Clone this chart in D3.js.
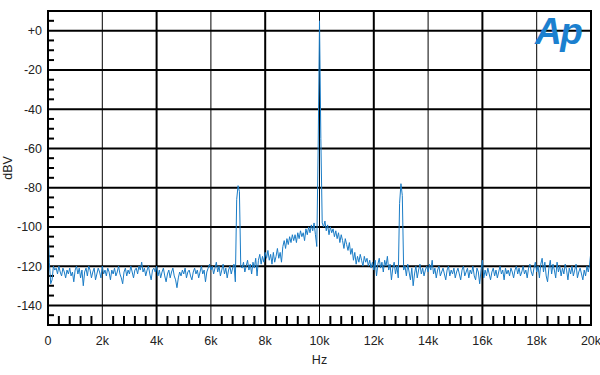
<!DOCTYPE html>
<html>
<head>
<meta charset="utf-8">
<script src="https://cdn.jsdelivr.net/npm/d3@7"></script>
<style>
  html, body { margin: 0; padding: 0; background: #fff; }
  svg { display: block; font-family: "Liberation Sans", Arial, sans-serif; }
</style>
</head>
<body>
<svg id="chart" width="600" height="375"></svg>
<script>
// ---- data ----
const binHz = 50; // FFT bin spacing of the analyzer trace
// Level (dBV) per 50 Hz bin, 0 Hz .. 20 kHz, one row per kHz
const levelDbv = [
  -99,-118,-129,-127,-120,-122,-121,-124,-120,-123,-125,-121,-123,-126,-122,-124,-121,-125,-123,-128,
  -122,-120,-124,-121,-126,-122,-130,-123,-121,-125,-120,-122,-126,-123,-121,-127,-124,-121,-123,-126,
  -120,-124,-122,-125,-121,-123,-127,-122,-124,-121,-125,-123,-120,-124,-126,-129,-123,-121,-125,-122,
  -124,-120,-123,-126,-122,-121,-124,-120,-122,-118,-123,-121,-125,-122,-120,-124,-127,-122,-121,-123,
  -120,-125,-122,-126,-123,-121,-125,-128,-124,-122,-126,-123,-121,-125,-127,-131,-126,-123,-125,-122,
  -124,-121,-126,-123,-122,-125,-127,-123,-121,-124,-122,-126,-123,-120,-124,-122,-128,-123,-121,-119,
  -122,-120,-124,-121,-118,-123,-120,-125,-122,-119,-124,-121,-126,-122,-120,-124,-121,-119,-128,-86,
  -79,-82,-120,-121,-118,-123,-120,-117,-122,-119,-124,-118,-121,-116,-125,-117,-114,-119,-115,-118,
  -113,-116,-112,-117,-114,-119,-113,-118,-115,-111,-116,-113,-118,-110,-107,-111,-106,-109,-105,-108,
  -104,-107,-104,-108,-103,-106,-102,-105,-103,-107,-101,-104,-100,-103,-99,-102,-98,-104,-110,-60,
  5,-55,-98,-100,-97,-102,-99,-104,-100,-103,-101,-105,-102,-106,-103,-108,-104,-107,-111,-106,
  -109,-112,-108,-114,-111,-117,-113,-119,-115,-118,-114,-117,-120,-115,-118,-116,-120,-117,-121,-118,
  -122,-117,-125,-119,-116,-121,-118,-123,-117,-120,-115,-122,-119,-127,-121,-118,-124,-120,-126,-88,
  -78,-84,-122,-120,-125,-119,-123,-127,-121,-130,-124,-120,-126,-122,-119,-124,-121,-125,-122,-120,
  -123,-119,-122,-117,-124,-121,-126,-122,-120,-125,-123,-121,-124,-127,-122,-120,-125,-122,-124,-121,
  -126,-123,-121,-124,-127,-122,-120,-125,-123,-121,-126,-122,-124,-120,-125,-127,-121,-123,-129,-122,
  -117,-126,-122,-125,-121,-124,-127,-123,-121,-125,-122,-126,-123,-120,-124,-122,-127,-121,-124,-122,
  -125,-121,-123,-126,-122,-120,-124,-121,-125,-123,-120,-124,-122,-126,-121,-119,-123,-125,-121,-118,
  -123,-120,-126,-119,-116,-123,-118,-125,-128,-121,-117,-124,-119,-122,-126,-118,-123,-120,-125,-121,
  -124,-119,-122,-127,-121,-124,-120,-125,-122,-119,-126,-123,-121,-124,-127,-122,-125,-120,-123,-119,
  -112
];
const xTicksHz = [0, 2000, 4000, 6000, 8000, 10000, 12000, 14000, 16000, 18000, 20000];
const xTickLabels = ["0", "2k", "4k", "6k", "8k", "10k", "12k", "14k", "16k", "18k", "20k"];
const yTicksDb = [0, -20, -40, -60, -80, -100, -120, -140];
const yTickLabels = ["+0", "-20", "-40", "-60", "-80", "-100", "-120", "-140"];
const xMinorHz = d3.range(0, 20001, 400).filter(v => v % 2000 !== 0);
const yMinorDb = d3.range(-145, 10, 5).filter(v => v % 20 !== 0);

// ---- layout ----
const L = 48, R = 591, T = 11, B = 325;
const svg = d3.select("#chart");
const x = d3.scaleLinear().domain([0, 20000]).range([L, R]);
const y = d3.scaleLinear().domain([-150, 10]).range([B, T]);

const grid = svg.append("g");
// vertical grid
grid.selectAll("line.v").data(xTicksHz.slice(1, -1)).enter().append("line")
  .attr("x1", d => x(d)).attr("x2", d => x(d)).attr("y1", T).attr("y2", B)
  .attr("stroke", "#000").attr("stroke-width", d => (d % 4000 === 0 ? 2 : 1));
// horizontal grid
grid.selectAll("line.h").data(yTicksDb).enter().append("line")
  .attr("x1", L).attr("x2", R).attr("y1", d => y(d)).attr("y2", d => y(d))
  .attr("stroke", "#000").attr("stroke-width", 2);
// minor ticks
grid.selectAll("line.ym").data(yMinorDb).enter().append("line")
  .attr("x1", L).attr("x2", L + 6).attr("y1", d => y(d)).attr("y2", d => y(d))
  .attr("stroke", "#000").attr("stroke-width", 2);
grid.selectAll("line.xm").data(xMinorHz).enter().append("line")
  .attr("x1", d => x(d)).attr("x2", d => x(d)).attr("y1", B).attr("y2", B - 9)
  .attr("stroke", "#000").attr("stroke-width", 2);

// trace
const pts = levelDbv.map((v, i) => [i * binHz, v]);
svg.append("path").datum(pts)
  .attr("fill", "none").attr("stroke", "#1a7cc6").attr("stroke-width", 1)
  .attr("stroke-linejoin", "round")
  .attr("d", d3.line().x(d => x(d[0])).y(d => y(d[1])));

// frame
svg.append("rect").attr("x", L).attr("y", T).attr("width", R - L).attr("height", B - T)
  .attr("fill", "none").attr("stroke", "#000").attr("stroke-width", 2);

// y labels
svg.selectAll("text.yl").data(yTicksDb).enter().append("text")
  .attr("x", 42).attr("y", d => y(d)).attr("dy", "0.36em")
  .attr("text-anchor", "end").attr("font-size", 12.5).attr("fill", "#222")
  .text((d, i) => yTickLabels[i]);
// x labels
svg.selectAll("text.xl").data(xTicksHz).enter().append("text")
  .attr("x", d => x(d)).attr("y", 345)
  .attr("text-anchor", "middle").attr("font-size", 12.5).attr("fill", "#222")
  .text((d, i) => xTickLabels[i]);
// axis titles
svg.append("text").attr("x", x(10000)).attr("y", 364).attr("text-anchor", "middle")
  .attr("font-size", 12.5).attr("fill", "#222").text("Hz");
svg.append("text").attr("transform", `translate(12,${(T + B) / 2}) rotate(-90)`)
  .attr("text-anchor", "middle").attr("font-size", 12.5).attr("fill", "#222").text("dBV");

// logo
svg.append("text").attr("x", 535).attr("y", 44)
  .attr("font-size", 37).attr("font-weight", "bold").attr("font-style", "italic")
  .attr("fill", "#1b80cf").attr("letter-spacing", -1.5).text("Ap");
</script>
</body>
</html>
